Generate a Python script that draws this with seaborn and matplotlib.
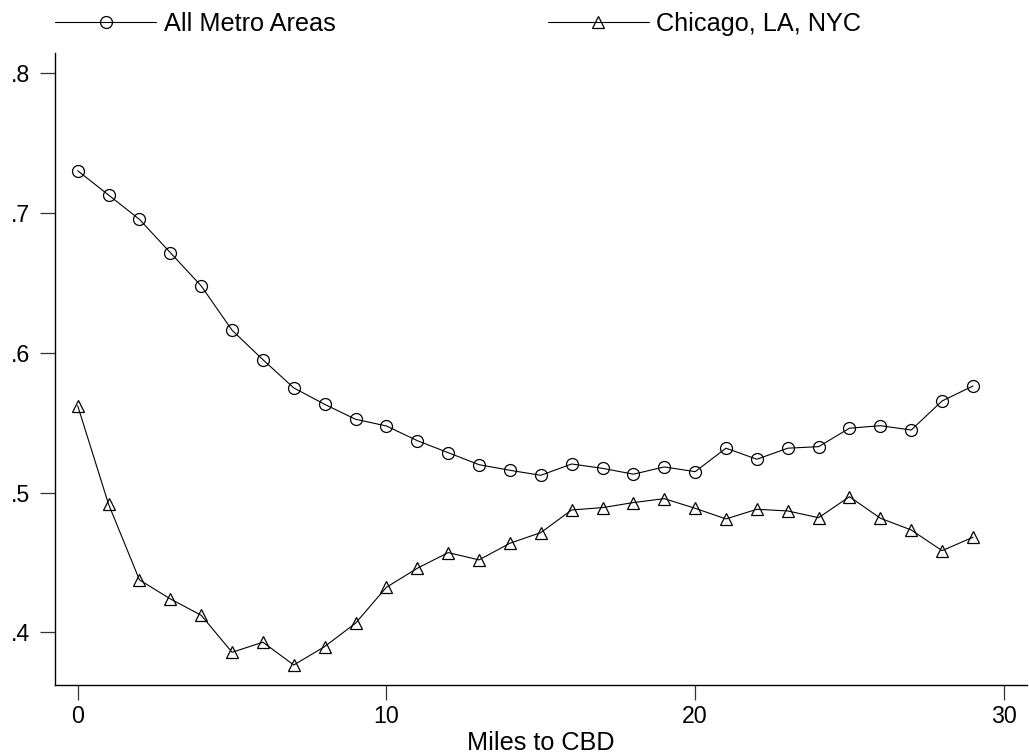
import numpy as np
import pandas as pd
import matplotlib
matplotlib.use("Agg")
import matplotlib.pyplot as plt
import seaborn as sns

miles = list(range(30))
all_metro = [0.7303, 0.7129, 0.6955, 0.6717, 0.6479, 0.6162, 0.5951, 0.5749, 0.5632, 0.5525,
             0.5477, 0.5372, 0.5286, 0.5200, 0.5160, 0.5124, 0.5205, 0.5174, 0.5132, 0.5184,
             0.5150, 0.5318, 0.5239, 0.5318, 0.5329, 0.5461, 0.5479, 0.5448, 0.5656, 0.5763]
chi_la_nyc = [0.5622, 0.4917, 0.4376, 0.4240, 0.4123, 0.3858, 0.3930, 0.3767, 0.3899, 0.4066,
              0.4323, 0.4459, 0.4571, 0.4519, 0.4638, 0.4714, 0.4876, 0.4893, 0.4929, 0.4957,
              0.4888, 0.4812, 0.4881, 0.4869, 0.4821, 0.4971, 0.4817, 0.4733, 0.4585, 0.4681]
series_names = ["All Metro Areas", "Chicago, LA, NYC"]
x_ticks = [0, 10, 20, 30]
y_ticks = [0.4, 0.5, 0.6, 0.7, 0.8]
y_tick_labels = [".4", ".5", ".6", ".7", ".8"]

df = pd.DataFrame({"miles": miles, "all": all_metro, "big3": chi_la_nyc})

sns.set_style("white", {"xtick.bottom": True, "ytick.left": True})
plt.rcParams["font.family"] = ["Liberation Sans", "DejaVu Sans"]
plt.rcParams.update({
    "text.color": "black", "axes.labelcolor": "black",
    "xtick.color": "#333333", "ytick.color": "#333333",
    "xtick.labelcolor": "black", "ytick.labelcolor": "black",
    "xtick.major.size": 10.8, "ytick.major.size": 10.8,
    "xtick.major.width": 0.9, "ytick.major.width": 0.9,
    "xtick.direction": "out", "ytick.direction": "out",
})

fig = plt.figure(figsize=(10.29, 7.54), dpi=100)
ax = fig.add_axes([55 / 1029, 1 - 685 / 754, (1027 - 55) / 1029, (685 - 53) / 754])

common = dict(color="black", linewidth=0.8, markersize=8.6, markerfacecolor="none",
              markeredgecolor="black", markeredgewidth=0.9)
sns.lineplot(data=df, x="miles", y="all", marker="o", ax=ax, label=series_names[0], **common)
sns.lineplot(data=df, x="miles", y="big3", marker="^", ax=ax, label=series_names[1], **common)

ax.set_xlim(-0.735, 30.75)
ax.set_ylim(0.3624, 0.8145)
ax.set_xticks(x_ticks)
ax.set_xticklabels([str(t) for t in x_ticks])
ax.set_yticks(y_ticks)
ax.set_yticklabels(y_tick_labels)

for s in ["top", "right"]:
    ax.spines[s].set_visible(False)
for s in ["left", "bottom"]:
    ax.spines[s].set_color("black")
    ax.spines[s].set_linewidth(1.0)

ax.tick_params(axis="both", which="major", bottom=True, left=True, direction="out",
               length=10.8, width=0.9, color="#333333", labelsize=16.7, labelcolor="black")
ax.tick_params(axis="x", pad=3.5)
ax.tick_params(axis="y", pad=7)

ax.set_xlabel("Miles to CBD", fontsize=18.2, labelpad=2, color="black")
ax.set_ylabel("")

ax.get_legend().remove()
handles, labels = ax.get_legend_handles_labels()
leg = fig.legend(handles, labels, loc="center left", bbox_to_anchor=(55 / 1029, 1 - 24 / 754),
                 ncol=2, frameon=False, fontsize=18.2, handlelength=4.0, handletextpad=0.3,
                 columnspacing=8.4, borderpad=0, borderaxespad=0)
for t in leg.get_texts():
    t.set_color("black")

fig.savefig("out.png", dpi=100)
